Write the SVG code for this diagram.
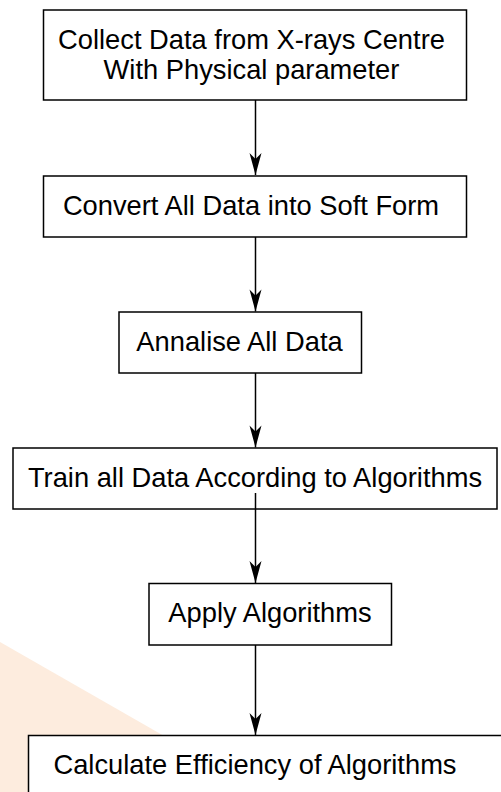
<svg xmlns="http://www.w3.org/2000/svg" width="501" height="792" viewBox="0 0 501 792">
<defs>
<style>
.box{fill:#fff;stroke:#000;stroke-width:1.5}
.lbl{font-family:"Liberation Sans",Arial,sans-serif;font-size:27.3px;fill:#000;text-anchor:middle}
.con{stroke:#000;stroke-width:1.5;fill:none;marker-end:url(#ah)}
</style>
<marker id="ah" markerUnits="userSpaceOnUse" markerWidth="24" markerHeight="14" viewBox="-23 -7 24 14" refX="0" refY="0" orient="auto">
<path d="M0,0 L-22,-6 L-16,0 L-22,6 Z" fill="#000"/>
</marker>
</defs>
<rect width="501" height="792" fill="#fff"/>
<polygon points="0,642 220,768 220,792 0,792" fill="#fdecde"/>
<g id="connectors">
<line class="con" x1="255.5" y1="100" x2="255.5" y2="175"/>
<line class="con" x1="255.5" y1="237" x2="255.5" y2="311.5"/>
<line class="con" x1="255.5" y1="373" x2="255.5" y2="447.5"/>
<line class="con" x1="255.5" y1="493" x2="255.5" y2="583"/>
<line class="con" x1="255.5" y1="645" x2="255.5" y2="735"/>
</g>
<g id="n1">
<rect class="box" x="43.5" y="10" width="423" height="90"/>
<text class="lbl" x="251.5" y="49">Collect Data from X-rays Centre</text>
<text class="lbl" x="251.5" y="79">With Physical parameter</text>
</g>
<g id="n2">
<rect class="box" x="43.5" y="176" width="423" height="61"/>
<text class="lbl" x="251" y="215">Convert All Data into Soft Form</text>
</g>
<g id="n3">
<rect class="box" x="119" y="312" width="242.5" height="61"/>
<text class="lbl" x="239.5" y="351">Annalise All Data</text>
</g>
<g id="n4">
<rect class="box" x="13" y="448" width="484" height="61"/>
<text class="lbl" x="255" y="487">Train all Data According to Algorithms</text>
</g>
<line x1="255.5" y1="493" x2="255.5" y2="509" stroke="#000" stroke-width="1.5"/>
<g id="n5">
<rect class="box" x="149" y="583.5" width="242.5" height="61.5"/>
<text class="lbl" x="270" y="622">Apply Algorithms</text>
</g>
<g id="n6">
<rect class="box" x="28.5" y="735.5" width="480" height="70"/>
<text class="lbl" x="255" y="773.5">Calculate Efficiency of Algorithms</text>
</g>
</svg>
